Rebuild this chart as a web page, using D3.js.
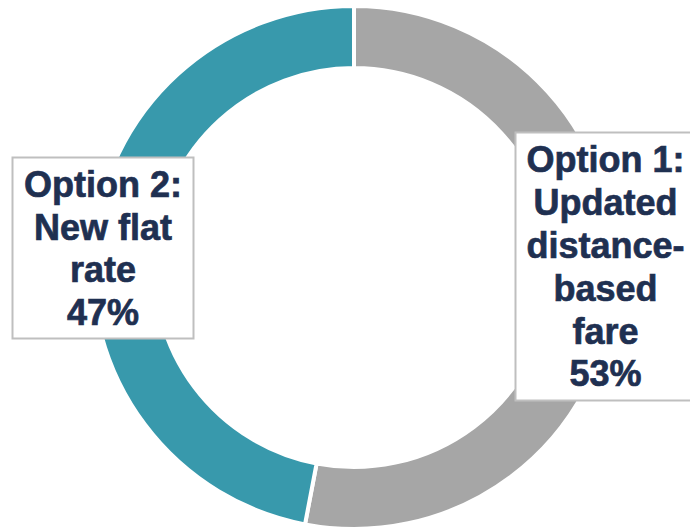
<!DOCTYPE html>
<html>
<head>
<meta charset="utf-8">
<script src="https://cdn.jsdelivr.net/npm/d3@7"></script>
<style>
  html, body { margin: 0; padding: 0; background: #fff; }
  svg { display: block; }
  .lbl { font-family: Arial, "Liberation Sans", Helvetica, sans-serif; font-weight: 700; }
</style>
</head>
<body>
<svg id="chart" width="690" height="532"></svg>
<script>
// Survey result: preferred fare option
const categories = ["Option 1: Updated distance-based fare", "Option 2: New flat rate"];
const values = [53, 47];
const colors = ["#a6a6a6", "#3899ac"];
const labelLines = [
  ["Option 1:", "Updated", "distance-", "based", "fare", "53%"],
  ["Option 2:", "New flat", "rate", "47%"]
];

const svg = d3.select("#chart");
const cx = 354, cy = 267.5;
const outerR = 261.5, innerR = 199.5;

const pie = d3.pie().sort(null).value(d => d)(values);
const arc = d3.arc().innerRadius(innerR).outerRadius(outerR);

const g = svg.append("g").attr("transform", `translate(${cx},${cy})`);
g.selectAll("path")
  .data(pie)
  .join("path")
  .attr("d", arc)
  .attr("fill", (d, i) => colors[i])
  .attr("stroke", "#fff")
  .attr("stroke-width", 4);

// Label boxes
const boxes = [
  { x: 515.5, y: 132.5, w: 180, h: 268, lines: labelLines[0] },
  { x: 12.5, y: 157.5, w: 181, h: 181, lines: labelLines[1] }
];
const lineH = 42.8;
const fontSize = 36;
const textColor = "#1f3051";

boxes.forEach(b => {
  const bg = svg.append("g");
  bg.append("rect")
    .attr("x", b.x).attr("y", b.y)
    .attr("width", b.w).attr("height", b.h)
    .attr("fill", "#fff")
    .attr("stroke", "#bfbfbf")
    .attr("stroke-width", 2);
  const n = b.lines.length;
  const centerY = b.y + b.h / 2;
  const firstBaseline = centerY - (n - 1) * lineH / 2 + fontSize * 0.36;
  bg.append("text")
    .attr("class", "lbl")
    .attr("text-anchor", "middle")
    .attr("font-size", fontSize)
    .attr("fill", textColor)
    .attr("stroke", textColor)
    .attr("stroke-width", 0.7)
    .selectAll("tspan")
    .data(b.lines)
    .join("tspan")
    .attr("x", b.x + b.w / 2)
    .attr("y", (d, i) => firstBaseline + i * lineH)
    .text(d => d);
});
</script>
</body>
</html>
